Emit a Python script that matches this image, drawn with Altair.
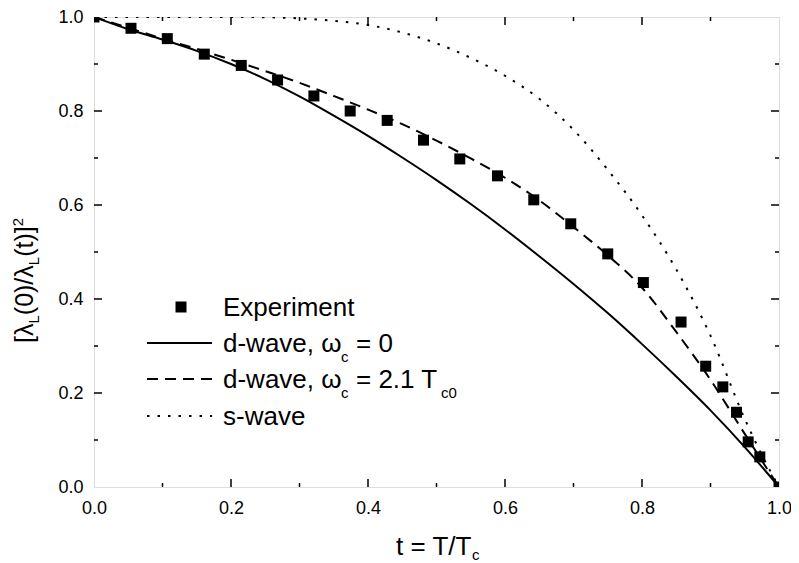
import altair as alt
import pandas as pd

# ---- data ----
t_exp = [0.0, 0.054, 0.107, 0.161, 0.215, 0.268, 0.321, 0.374, 0.428, 0.481, 0.534,
         0.589, 0.642, 0.696, 0.750, 0.802, 0.857, 0.893, 0.918, 0.938, 0.955, 0.972, 1.0]
v_exp = [1.0, 0.976, 0.954, 0.921, 0.897, 0.866, 0.832, 0.800, 0.780, 0.738, 0.698,
         0.662, 0.611, 0.560, 0.496, 0.435, 0.351, 0.257, 0.213, 0.159, 0.096, 0.064, 0.0]

t_d0 = [0.0, 0.05, 0.1, 0.15, 0.2, 0.25, 0.3, 0.35, 0.4, 0.45, 0.5,
        0.55, 0.6, 0.65, 0.7, 0.75, 0.8, 0.85, 0.9, 0.95, 1.0]
v_d0 = [1.0, 0.974, 0.952, 0.928, 0.900, 0.868, 0.831, 0.790, 0.747, 0.701, 0.653,
        0.602, 0.548, 0.491, 0.432, 0.370, 0.304, 0.235, 0.163, 0.085, 0.0]

t_d21 = [0.0, 0.05, 0.1, 0.15, 0.2, 0.25, 0.3, 0.35, 0.4, 0.45, 0.5,
         0.55, 0.6, 0.65, 0.7, 0.75, 0.8, 0.85, 0.9, 0.95, 0.975, 1.0]
v_d21 = [1.0, 0.977, 0.954, 0.932, 0.909, 0.885, 0.860, 0.832, 0.803, 0.772, 0.737,
         0.699, 0.658, 0.610, 0.553, 0.493, 0.424, 0.330, 0.228, 0.113, 0.056, 0.0]

t_s = [0.0, 0.05, 0.1, 0.15, 0.2, 0.25, 0.3, 0.35, 0.4, 0.45, 0.5,
       0.55, 0.6, 0.65, 0.7, 0.75, 0.8, 0.85, 0.9, 0.95, 0.975, 1.0]
v_s = [1.0, 1.0, 1.0, 1.0, 1.0, 0.9995, 0.997, 0.992, 0.983, 0.967, 0.944,
       0.913, 0.875, 0.826, 0.760, 0.675, 0.578, 0.463, 0.322, 0.145, 0.068, 0.0]

major_ticks = [0.2, 0.4, 0.6, 0.8]
minor_ticks = [0.1, 0.3, 0.5, 0.7, 0.9]
label_values = [0.0, 0.2, 0.4, 0.6, 0.8, 1.0]

W, H = 685, 470
TOP, LEFT = 9, 86
SVG_W, SVG_H = 783, 555
FONT = "Liberation Sans"
BIG, SMALL = 26, 15

xs = alt.Scale(domain=[0, 1], nice=False, zero=False)
ys = alt.Scale(domain=[0, 1], nice=False, zero=False)
xax = alt.Axis(values=label_values, format=".1f", title=None, domain=False, ticks=False,
               tickSize=0, grid=False, labelPadding=12, labelFontSize=18, labelFont=FONT,
               labelColor="black", labelFlush=False)
yax = alt.Axis(values=label_values, format=".1f", title=None, domain=False, ticks=False,
               tickSize=0, grid=False, labelPadding=11, labelFontSize=18, labelFont=FONT,
               labelColor="black", labelFlush=False)


def curve(t, v, dash=None):
    df = pd.DataFrame({"t": t, "v": v})
    kw = dict(color="black", strokeWidth=2, interpolate="monotone", clip=True)
    if dash:
        kw["strokeDash"] = dash
    return alt.Chart(df).mark_line(**kw).encode(
        x=alt.X("t:Q", scale=xs, axis=xax), y=alt.Y("v:Q", scale=ys, axis=yax))


solid = curve(t_d0, v_d0)
dashed = curve(t_d21, v_d21, [11, 7])
dotted = curve(t_s, v_s, [2.5, 8])

pts = alt.Chart(pd.DataFrame({"t": t_exp, "v": v_exp})).mark_square(
    color="black", size=121, opacity=1, clip=True).encode(
    x=alt.X("t:Q", scale=xs), y=alt.Y("v:Q", scale=ys))


# inward ticks on all four sides
def xticks(vals, length, top=False):
    y0 = 0 if top else H
    y1 = length if top else H - length
    return alt.Chart(pd.DataFrame({"p": vals})).mark_rule(color="black", strokeWidth=1.5).encode(
        x=alt.X("p:Q", scale=xs), y=alt.value(y0), y2=alt.value(y1))


def yticks(vals, length, right=False):
    x0 = W if right else 0
    x1 = W - length if right else length
    return alt.Chart(pd.DataFrame({"p": vals})).mark_rule(color="black", strokeWidth=1.5).encode(
        y=alt.Y("p:Q", scale=ys), x=alt.value(x0), x2=alt.value(x1))


ticks = [xticks(major_ticks, 8), xticks(minor_ticks, 4),
         xticks(major_ticks, 8, True), xticks(minor_ticks, 4, True),
         yticks(major_ticks, 8), yticks(minor_ticks, 4),
         yticks(major_ticks, 8, True), yticks(minor_ticks, 4, True)]

one = pd.DataFrame({"a": [0]})


def px(x):
    return x - LEFT - 8


def py(y):
    return y - TOP - 8


def txt(s, x, y, size=BIG, angle=0):
    # x, y given in page pixels; converted to plot-area pixels
    return alt.Chart(one).mark_text(
        text=s, font=FONT, fontSize=size, color="black", align="left",
        baseline="alphabetic", angle=angle).encode(
        x=alt.value(px(x)), y=alt.value(py(y)))


# legend symbols (page pixels converted)
leg = [
    alt.Chart(one).mark_square(color="black", size=121, opacity=1).encode(
        x=alt.value(px(181)), y=alt.value(py(307))),
    alt.Chart(one).mark_rule(color="black", strokeWidth=2).encode(
        x=alt.value(px(147)), x2=alt.value(px(212)), y=alt.value(py(343))),
    alt.Chart(one).mark_rule(color="black", strokeWidth=2, strokeDash=[11, 7]).encode(
        x=alt.value(px(147)), x2=alt.value(px(212)), y=alt.value(py(379))),
    alt.Chart(one).mark_rule(color="black", strokeWidth=2, strokeDash=[2.5, 8]).encode(
        x=alt.value(px(147)), x2=alt.value(px(212)), y=alt.value(py(416))),
]

texts = [
    txt("Experiment", 223, 316),
    txt("d-wave, \u03c9", 223, 352), txt("c", 341, 362, SMALL), txt("= 0", 356, 352),
    txt("d-wave, \u03c9", 223, 388), txt("c", 341, 398, SMALL), txt("= 2.1 T", 356, 388),
    txt("c0", 441, 398, SMALL),
    txt("s-wave", 223, 425),
    # x title
    txt("t = T/T", 396, 555), txt("c", 472, 560, SMALL),
    # y title (rotated)
    txt("[\u03bb", 33, 343, 25, 270), txt("L", 39, 323.5, SMALL, 270),
    txt("(0)/\u03bb", 33, 315.2, 25, 270), txt("L", 39, 265.2, SMALL, 270),
    txt("(t)]", 33, 256.8, 25, 270), txt("2", 23, 226.3, SMALL, 270),
]

chart = alt.layer(solid, dashed, dotted, pts, *ticks, *leg, *texts).properties(
    width=W, height=H,
    padding={"left": LEFT, "top": TOP, "right": SVG_W - LEFT - W, "bottom": SVG_H - TOP - H},
    autosize=alt.AutoSizeParams(type="none"),
).configure_view(stroke="black", strokeWidth=2).configure(background="white")

chart.save("out.html", embed_options={"renderer": "svg", "actions": False})
